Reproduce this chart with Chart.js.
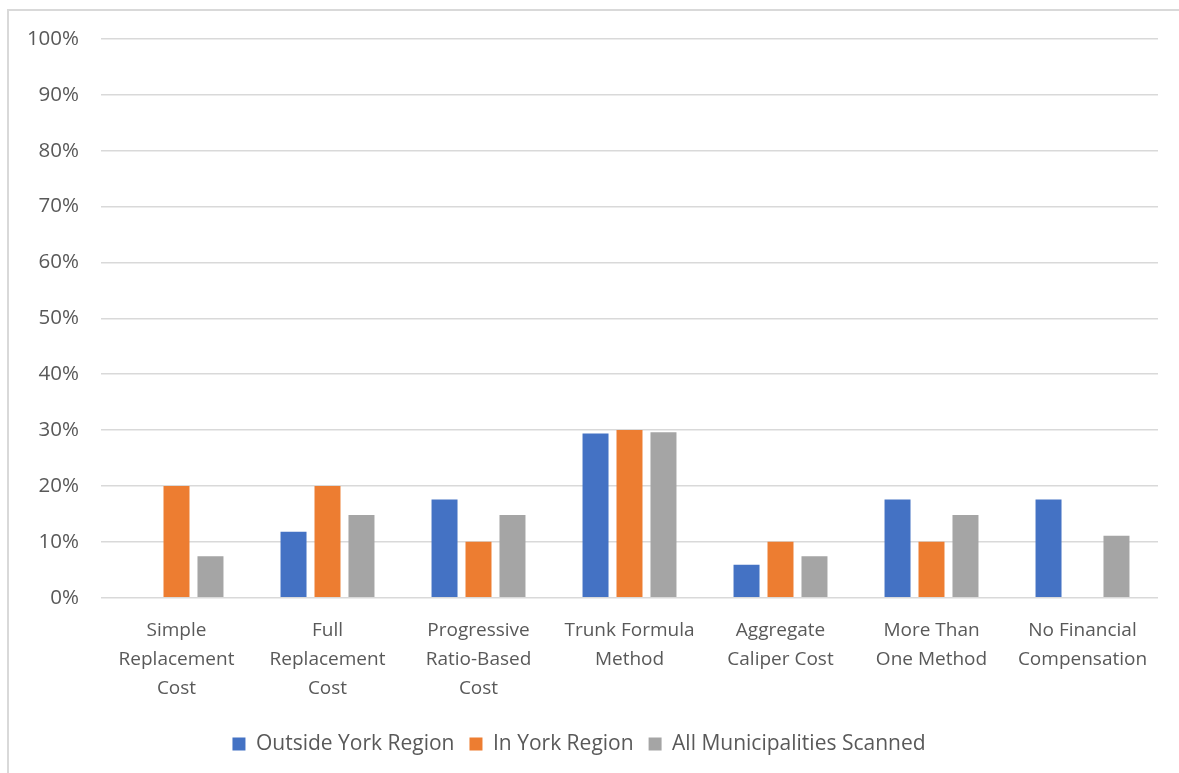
<!DOCTYPE html>
<html>
<head>
<meta charset="utf-8">
<script src="https://cdn.jsdelivr.net/npm/chart.js@4/dist/chart.umd.min.js"></script>
<style>
  html, body { margin: 0; padding: 0; background: #ffffff; overflow: hidden; }
  #frame {
    position: absolute; left: 7px; top: 9px; width: 1300px; height: 900px;
    border-top: 2px solid #d9d9d9; border-left: 2px solid #d9d9d9;
  }
  #wrap { position: absolute; left: 0; top: 0; width: 1179px; height: 773px; }
</style>
</head>
<body>
<div id="frame"></div>
<div id="wrap"><canvas id="chart" width="1179" height="773"></canvas></div>
<script>
// Compensation methods used by municipalities (share of municipalities, %)
const categories = [
  ["Simple", "Replacement", "Cost"],
  ["Full", "Replacement", "Cost"],
  ["Progressive", "Ratio-Based", "Cost"],
  ["Trunk Formula", "Method"],
  ["Aggregate", "Caliper Cost"],
  ["More Than", "One Method"],
  ["No Financial", "Compensation"]
];
const outsideYork = [0, 11.8, 17.6, 29.4, 5.9, 17.6, 17.6];
const inYork      = [20, 20, 10, 30, 10, 10, 0];
const allScanned  = [7.4, 14.8, 14.8, 29.6, 7.4, 14.8, 11.1];
const yTicks = [0, 10, 20, 30, 40, 50, 60, 70, 80, 90, 100];

const FONT = "'Open Sans', Lato, sans-serif";
const TEXT = "#595959";
const GRID = "#d9d9d9";

Chart.defaults.font.family = FONT;
Chart.defaults.color = TEXT;

new Chart(document.getElementById("chart"), {
  type: "bar",
  data: {
    labels: categories,
    datasets: [
      { label: "Outside York Region", data: outsideYork, backgroundColor: "#4472C4" },
      { label: "In York Region", data: inYork, backgroundColor: "#ED7D31" },
      { label: "All Municipalities Scanned", data: allScanned, backgroundColor: "#A5A5A5" }
    ]
  },
  options: {
    responsive: false,
    animation: false,
    devicePixelRatio: 1,
    categoryPercentage: 0.675,
    barPercentage: 0.765,
    layout: { padding: { top: 39, right: 21, bottom: 8.5, left: 0 } },
    plugins: {
      legend: {
        position: "bottom",
        labels: {
          font: { size: 21 },
          color: TEXT,
          boxWidth: 13,
          boxHeight: 13,
          padding: 15
        }
      },
      tooltip: { enabled: false }
    },
    scales: {
      x: {
        afterFit: (axis) => { axis.height -= 3; },
        grid: { display: false, drawTicks: false },
        border: { display: false },
        ticks: {
          font: { size: 19, lineHeight: 1.54 },
          color: TEXT,
          padding: 18,
          maxRotation: 0,
          autoSkip: false
        }
      },
      y: {
        min: 0,
        max: 100,
        afterFit: (axis) => { axis.width = 101; },
        afterBuildTicks: (axis) => { axis.ticks = yTicks.map(v => ({ value: v })); },
        grid: { color: GRID, lineWidth: 1.5, drawTicks: false },
        border: { display: false },
        ticks: {
          font: { size: 20.5 },
          color: TEXT,
          padding: 22,
          callback: (v) => v + "%"
        }
      }
    }
  }
});
</script>
</body>
</html>
